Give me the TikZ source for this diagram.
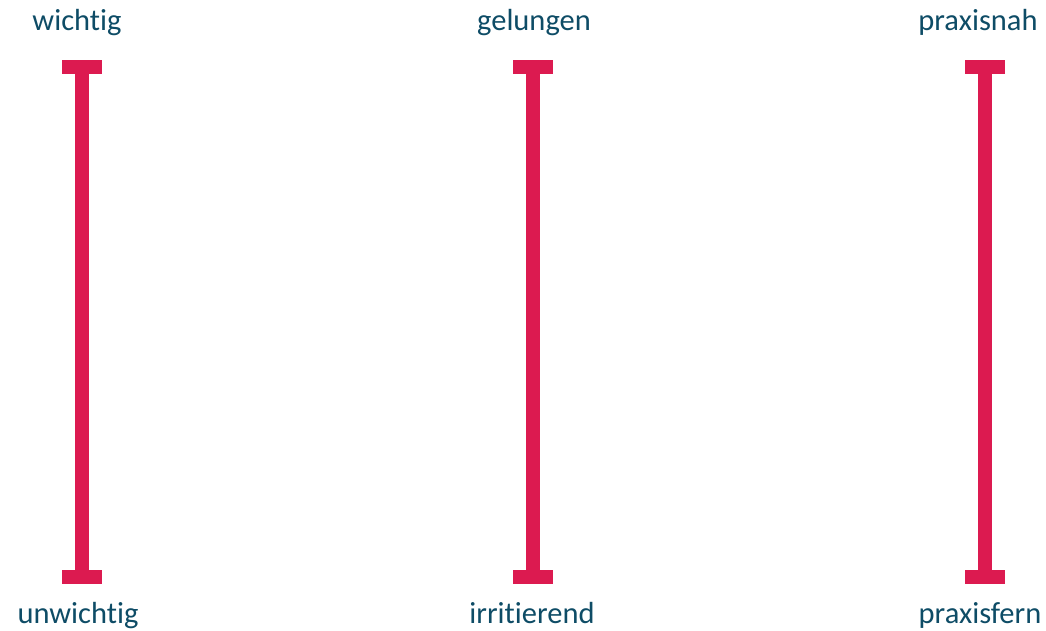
\documentclass[tikz,border=0pt]{standalone}
\usepackage{fontspec}
\setmainfont[Ligatures={NoCommon}]{Carlito}
\definecolor{barred}{HTML}{DC1A50}
\definecolor{labelteal}{HTML}{0E4C66}
\begin{document}
\begin{tikzpicture}[x=1pt,y=-1pt,
  stem/.style={fill=barred},
  lbl/.style={text=labelteal,font=\fontsize{30.5}{36}\selectfont,anchor=base,inner sep=0pt}]
\useasboundingbox (0,0) rectangle (1046,631);
\foreach \c/\n in {82/a,533/b,985/c}{
  \fill[stem] (\c-7,60) rectangle (\c+7,584);
  \fill[stem] (\c-20,60) rectangle (\c+20,74);
  \fill[stem] (\c-20,570) rectangle (\c+20,584);
  \coordinate (top\n) at (\c,60);
  \coordinate (bot\n) at (\c,584);
}
\node[lbl] (t1) at (77,30.5) {wichtig};
\node[lbl] (t2) at (534,30.5) {gelungen};
\node[lbl] (t3) at (978,30.5) {praxisnah};
\node[lbl] (b1) at (78,623.5) {unwichtig};
\node[lbl] (b2) at (532,623.5) {irritierend};
\node[lbl] (b3) at (980,623.5) {praxisfern};
\end{tikzpicture}
\end{document}
